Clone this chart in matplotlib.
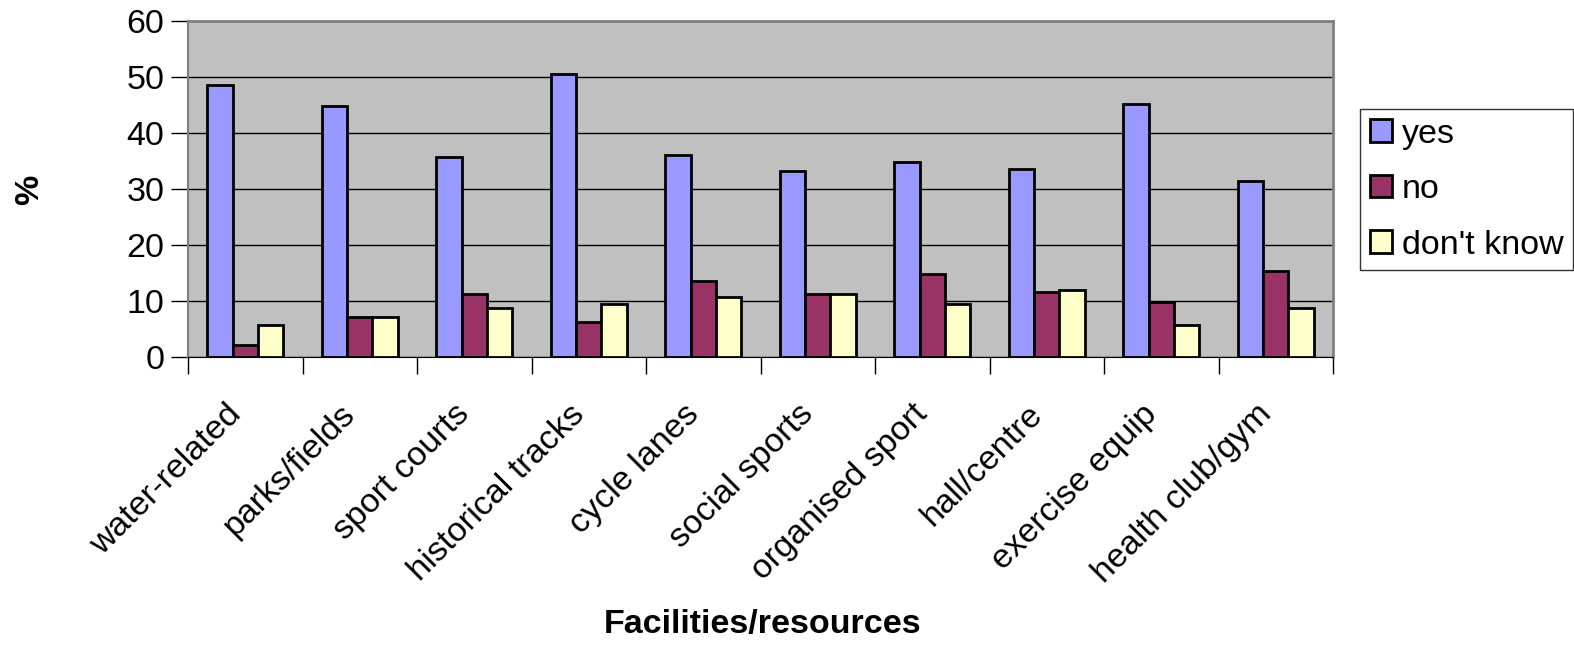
import numpy as np
import matplotlib
matplotlib.use("Agg")
import matplotlib.pyplot as plt
from matplotlib.transforms import ScaledTranslation

plt.rcParams['font.family'] = ['Liberation Sans', 'DejaVu Sans']

categories = ["water-related", "parks/fields", "sport courts", "historical tracks",
              "cycle lanes", "social sports", "organised sport", "hall/centre",
              "exercise equip", "health club/gym"]
yes = [48.5, 44.8, 35.7, 50.5, 36.1, 33.2, 34.8, 33.6, 45.2, 31.5]
no = [2.1, 7.1, 11.2, 6.3, 13.6, 11.2, 14.9, 11.6, 9.9, 15.3]
dont_know = [5.8, 7.1, 8.7, 9.5, 10.8, 11.2, 9.5, 12.0, 5.8, 8.7]
series_names = ["yes", "no", "don't know"]
colors = ["#9999FF", "#993366", "#FFFFCC"]

W, H = 1574, 645
fs = 24.5
fig = plt.figure(figsize=(W / 100, H / 100), dpi=100)
ax = fig.add_axes([188 / W, 1 - 357 / H, (1333 - 188) / W, (357 - 21) / H])
ax.set_facecolor("#C0C0C0")

x = np.arange(len(categories))
w = 1 / 4.5
for i, (vals, name, c) in enumerate(zip([yes, no, dont_know], series_names, colors)):
    ax.bar(x + (i - 1) * w, vals, w, color=c, edgecolor="black", linewidth=2,
           label=name, zorder=3)

ax.set_xlim(-0.5, len(categories) - 0.5)
ax.set_ylim(0, 60)
ax.set_yticks(range(0, 61, 10))
ax.yaxis.grid(True, color="black", linewidth=1, zorder=1)
ax.set_axisbelow(True)

ax.set_xticks(x)
ax.set_xticklabels(categories, rotation=45, ha="right", rotation_mode="anchor",
                   fontsize=fs)
ax.tick_params(axis="x", length=0, pad=30)
offset = ScaledTranslation(-20 / 100, 0, fig.dpi_scale_trans)
for lab in ax.get_xticklabels():
    lab.set_transform(lab.get_transform() + offset)
ax.set_xticks(np.arange(-0.5, len(categories)), minor=True)
ax.tick_params(axis="x", which="minor", length=12, width=1, color="black")
ax.tick_params(axis="y", labelsize=fs, length=12, width=1, pad=5)

for s in ["top", "right"]:
    ax.spines[s].set_color("#808080")
    ax.spines[s].set_linewidth(2)
ax.spines["left"].set_color("#808080")
ax.spines["left"].set_linewidth(1.5)
ax.spines["bottom"].set_color("black")

fig.text(30 / W, 1 - 190 / H, "%", rotation=90, fontsize=fs, fontweight="bold",
         ha="center", va="center")
fig.text(763 / W, 1 - 625 / H, "Facilities/resources", fontsize=fs,
         fontweight="bold", ha="center", va="center")

leg = fig.legend(loc="upper left", bbox_to_anchor=(1360 / W, 1 - 109 / H),
                 fontsize=fs, frameon=True, fancybox=False, edgecolor="black",
                 handlelength=0.65, handleheight=0.65, handletextpad=0.3,
                 borderpad=0.28, labelspacing=0.72, borderaxespad=0)
leg.get_frame().set_linewidth(1)

fig.savefig("out.png", dpi=100)
